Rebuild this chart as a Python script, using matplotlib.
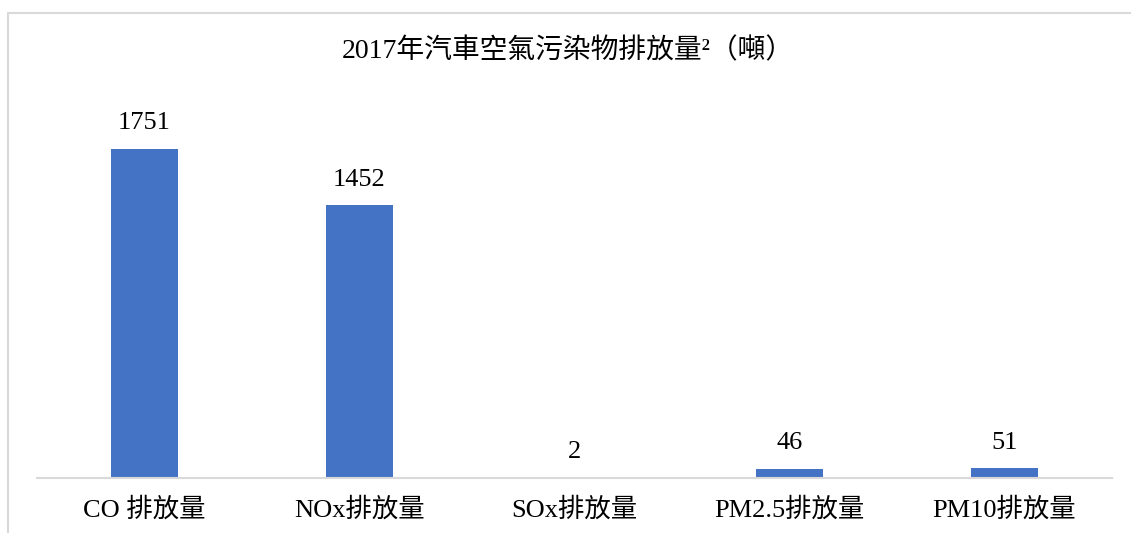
import matplotlib
matplotlib.use("Agg")
import matplotlib.pyplot as plt
from matplotlib.patches import Rectangle

plt.rcParams['font.family'] = ['Liberation Serif', 'Noto Sans CJK TC', 'DejaVu Sans']

title = "2017年汽車空氣污染物排放量²（噸）"
categories = ["CO 排放量", "NOx排放量", "SOx排放量", "PM2.5排放量", "PM10排放量"]
values = [1751, 1452, 2, 46, 51]
bar_color = "#4472C4"

W, H = 1131, 533
fig = plt.figure(figsize=(W / 100, H / 100), dpi=100)

# outer frame (light gray, top and left visible)
fig.patches.append(Rectangle((8 / W, -0.1), 1.2, (H - 13) / H + 0.1,
                             transform=fig.transFigure, fill=False,
                             edgecolor="#D9D9D9", linewidth=1.5))

ax = fig.add_axes([37 / W, (H - 477.7) / H, (1112 - 37) / W, 375.4 / H])
x = list(range(len(categories)))
ax.bar(x, values, width=0.315, color=bar_color)
ax.set_xlim(-0.5, len(categories) - 0.5)
ax.set_ylim(0, 2000)

for xi, v in zip(x, values):
    ax.annotate(str(v), (xi, v), xytext=(0, 10.5), textcoords="offset points",
                ha="center", va="bottom", fontsize=19, color="#000000")

ax.set_xticks(x)
ax.set_xticklabels(categories, fontsize=19)
ax.tick_params(axis="x", length=0, pad=14)
ax.set_yticks([])
for s in ["top", "right", "left"]:
    ax.spines[s].set_visible(False)
ax.spines["bottom"].set_color("#D9D9D9")
ax.spines["bottom"].set_linewidth(1.5)

fig.text(568 / W, 1 - 51 / H, title, ha="center", va="center", fontsize=20)

fig.savefig("out.png", dpi=100)
